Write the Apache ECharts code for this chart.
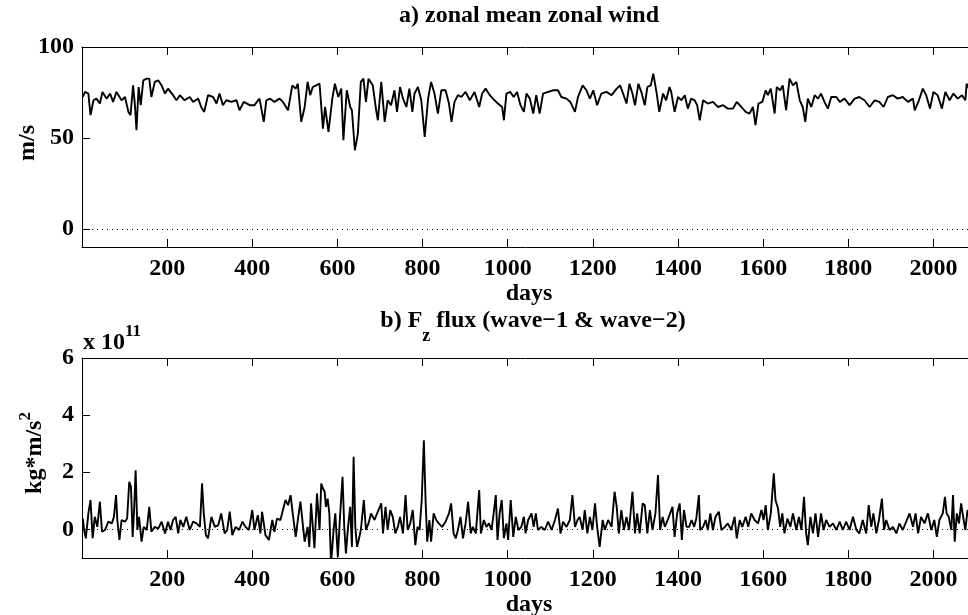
<!DOCTYPE html>
<html><head><meta charset="utf-8">
<script src="https://cdn.jsdelivr.net/npm/echarts@6/dist/echarts.min.js"></script>
<style>html,body{margin:0;padding:0;background:#fff}#c{width:968px;height:615px}</style>
</head><body><div id="c"></div>
<script>
// ---- panel a: zonal mean zonal wind (m/s) ----
const daysA = [2,7,15,20,27,34,42,48,58,66,73,81,93,101,109,114,120,124,128,133,138,144,152,158,163,171,179,187,195,202,214,222,230,241,253,261,273,280,287,296,308,316,323,331,339,351,363,370,380,394,405,417,427,433,442,452,464,472,484,494,502,507,515,523,530,536,542,550,558,566,571,579,588,594,602,609,614,622,630,634,641,648,655,661,667,673,
683,691,695,703,711,718,726,734,740,747,754,762,769,776,781,789,797,805,813,820,828,836,844,854,862,868,875,883,891,901,911,922,933,940,948,958,965,977,987,991,997,1006,1014,1022,1030,1038,1044,1052,1060,1067,1075,1083,1095,1107,1118,1126,1138,1147,1158,1165,1176,1185,1193,1201,1210,1220,1232,1244,1256,1264,1271,1279,1286,1293,1299,1307,1315,1322,1328,1336,1342,1350,1356,1365,1372,1380,
1384,1392,1400,1408,1416,1423,1431,1439,1445,1451,1459,1470,1482,1494,1506,1517,1529,1538,1549,1559,1568,1576,1582,1589,1598,1606,1611,1618,1627,1632,1640,1646,1654,1662,1670,1678,1686,1693,1699,1705,1713,1721,1729,1736,1744,1752,1760,1772,1780,1791,1803,1815,1826,1838,1850,1862,1873,1883,1893,1905,1916,1928,1940,1952,1956,1966,1975,1983,1992,2000,2010,2020,2028,2038,2047,2057,2067,2075,2078,2086];
const windA = [72.5,75.3,74.4,62.5,70.7,71.6,68.9,75.3,71.6,74.4,69.8,75.3,70.7,72.5,64.3,62.5,78.9,68.9,54.2,78,68,81.7,82.6,82.6,72.5,80.8,81.7,78.9,74.4,77.1,73.5,70.7,73.5,70.7,72.5,69.8,71.6,67.0,64.3,73.5,72.5,68.9,74.4,68,70.7,69.8,70.7,65.2,69.8,68,68,71.6,58.8,70.7,71.6,69.8,71.6,69.8,65.2,78.9,77.1,79.8,58.8,67,80.8,73.5,78,78.9,79.8,55.1,67,53.3,71.6,79.8,72.5,77.1,48.7,76.2,67,65.2,43.2,52.4,80.8,82.6,69.8,82.6,
78.9,65.2,59.7,80.8,58.8,70.7,68,76.2,64.3,78,71.6,67,77.1,64.3,74.4,78,70.7,50.5,71.6,80.8,74.4,63.4,76.2,76.2,68.9,58.8,69.8,73.5,72.5,75.3,70.7,75.3,67,74.4,77.1,73.5,71.6,68.9,67,59.7,74.4,75.3,72.5,75.3,68,64.3,74.4,71.6,63.4,73.5,63.4,74.4,75.3,76.2,76.2,72.5,71.6,69.8,64.3,72.5,78.9,76.2,71.6,76.2,68,74.4,75.3,73.5,77.1,78.9,74.4,68.9,79.8,74.4,68,79.8,74.4,68,78,78.9,85.3,74.4,64.3,74.4,70.7,78,
75.3,64.3,72.5,70.7,73.5,66.1,71.6,70.7,68,59.7,70.7,68.9,69.8,67,68,66.1,66.1,69.8,67,64.3,63.4,67,57,68.9,69.8,76.2,73.5,77.1,63.4,78,76.2,78.9,65.2,82.6,78.9,80.8,70.7,67,58.8,71.6,67,73.5,71.6,74.4,69.8,66.1,72.5,72.5,69.8,71.6,68,71.6,72.5,70.7,67,70.7,69.8,67,72.5,73.5,71.6,72.5,69.8,71.6,65.2,70.7,77.1,73.5,66.1,75.3,73.5,66.1,75.3,70.7,74.4,71.6,73.5,70.7,79.8,76];

// ---- panel b: Fz flux (units of 10^11 kg*m/s^2) ----
const daysB = [2,5,9,15,20,25,30,36,42,47,54,62,70,75,80,83,88,93,101,106,111,115,119,122,126,130,134,140,145,152,158,163,171,179,187,195,202,208,214,220,226,231,238,245,253,261,269,277,282,286,291,296,304,312,320,327,335,341,347,353,361,369,377,384,392,400,405,413,419,423,431,439,447,452,458,466,470,478,484,490,495,502,507,513,517,523,530,534,538,546,552,558,562,566,570,573,577,581,585,591,595,601,606,612,616,620,625,630,634,638,642,646,650,655,662,667,673,
679,687,695,703,707,713,718,724,730,736,742,747,754,760,765,771,777,783,788,793,798,803,807,811,816,820,826,832,838,846,854,862,867,873,878,883,889,895,901,907,913,918,925,933,937,944,950,956,962,967,972,976,981,986,991,997,1001,1007,1013,1019,1025,1032,1038,1042,1048,1056,1061,1066,1071,1079,1087,1095,1103,1111,1118,1124,1130,1138,1146,1152,1158,1164,1169,1176,1181,1187,1193,1199,1205,1210,1216,1223,1228,1236,1244,1251,1256,1261,1267,1273,1279,1285,1293,1299,1304,1310,1317,1322,1328,1334,1340,1347,1353,1358,1364,1369,1377,
1387,1392,1398,1404,1409,1414,1420,1426,1432,1438,1443,1449,1452,1459,1465,1470,1476,1482,1488,1496,1502,1510,1517,1525,1533,1538,1545,1551,1559,1565,1572,1580,1588,1596,1601,1606,1611,1618,1625,1629,1635,1640,1645,1650,1657,1664,1670,1678,1684,1690,1696,1701,1705,1711,1717,1723,1729,1736,1742,1748,1756,1764,1772,1780,1787,1795,1803,1811,1819,1826,1834,1842,1848,1854,1859,1866,1872,1879,1884,1889,1897,1905,1913,1920,1928,1936,1944,1952,1958,1964,1971,1979,1987,1995,2002,2008,2014,2022,2027,2031,2036,2042,2046,2050,2055,2060,2065,2071,2075,2080,2086];
const fluxB = [0.38,-0.02,-0.31,0.56,1.03,-0.31,0.44,0.09,0.97,-0.08,-0.02,0.27,0.21,0.44,1.2,0.33,-0.37,0.33,0.27,0.38,1.67,1.49,-0.26,0.56,2.07,-0.02,0.44,-0.43,0.09,-0.02,0.79,-0.08,0.09,0.03,0.27,-0.14,0.27,-0.02,0.33,0.44,-0.14,0.33,0.09,0.44,-0.02,0.27,0.21,0.09,1.61,0.56,-0.2,-0.31,0.44,0.09,0.15,0.56,-0.14,-0.02,0.62,-0.2,0.09,-0.02,0.27,0.09,-0.02,0.68,-0.02,0.5,-0.14,0.62,-0.2,-0.37,0.33,-0.08,0.38,0.33,0.33,1.03,0.85,1.2,0.56,-0.26,0.33,0.97,0.91,-0.43,0.09,-0.61,0.91,-0.66,1.26,-0.02,1.61,1.43,1.32,0.79,1.08,0.56,-1.2,-0.02,0.56,-0.96,0.44,1.84,0.09,-0.84,0.09,0.79,-0.61,2.54,0.09,-0.61,-0.37,-0.02,1.03,-0.02,0.21,
0.56,0.33,0.62,0.91,-0.14,0.79,-0.02,0.68,0.44,-0.14,0.09,0.44,-0.14,1.2,-0.02,0.21,0.68,-0.55,0.09,-0.02,1.03,3.12,1.03,-0.43,0.33,-0.43,0.56,0.33,0.21,0.09,0.27,0.56,0.91,-0.14,-0.31,-0.02,0.44,-0.31,0.21,0.97,-0.14,0.09,-0.14,1.38,-0.14,0.33,0.09,0.21,-0.02,0.56,1.2,-0.37,0.56,1.03,-0.31,0.21,-0.37,1.03,-0.26,0.44,-0.02,0.09,0.44,-0.14,0.33,0.56,0.09,0.56,-0.02,0.09,-0.02,0.27,-0.02,0.33,0.73,-0.14,0.27,0.09,0.33,1.2,0.09,0.33,0.44,-0.02,0.68,-0.14,0.44,-0.02,0.91,0.09,-0.61,0.33,-0.02,0.33,0.09,1.32,0.79,-0.14,0.68,-0.02,0.44,-0.02,1.32,-0.14,0.56,-0.14,0.91,0.85,-0.14,0.68,-0.02,0.56,1.9,-0.02,0.44,0.09,0.38,
0.79,-0.26,0.56,0.91,-0.37,0.68,0.09,0.09,0.33,0.09,0.38,1.2,-0.02,0.09,0.33,-0.02,0.56,-0.02,0.44,0.62,-0.02,0.09,0.21,-0.02,0.44,-0.31,0.33,0.09,0.44,0.09,0.56,0.33,0.21,0.68,0.33,0.85,-0.02,0.56,1.96,1.03,0.73,0.09,0.56,-0.14,0.38,0.09,0.56,-0.02,0.44,-0.02,1.14,-0.14,-0.55,0.44,-0.14,0.56,-0.26,0.56,-0.02,0.33,0.09,0.21,-0.02,0.27,-0.02,0.27,-0.02,0.44,-0.02,-0.14,0.33,-0.14,0.85,0.09,0.56,-0.14,0.33,1.08,-0.02,0.33,-0.02,0.09,-0.14,0.21,-0.02,0.27,0.56,0.09,0.56,-0.14,0.44,0.21,0.56,-0.02,0.33,-0.26,0.33,0.56,1.14,0.56,0.44,-0.02,1.2,-0.43,0.56,0.21,0.91,0.33,-0.02,0.68,0.3];

// ---- ticks ----
const xTicks = [200,400,600,800,1000,1200,1400,1600,1800,2000];
const yTicksA = [0,50,100];
const yTicksB = [0,2,4,6];

const FONT = '"Liberation Serif","Times New Roman",serif';
function pairs(x, y) { return x.map((d, i) => [d, y[i]]); }

const chart = echarts.init(document.getElementById('c'), null, {renderer: 'canvas'});

const axLine = {show: true, onZero: false, lineStyle: {color: '#000', width: 1}};
const plain = v => String(v);
function xAx(grid, pos, withLabels) {
  return {
    type: 'value', gridIndex: grid, position: pos, min: 0, max: 2100,
    axisLine: axLine,
    axisTick: {show: true, inside: true, length: 8, customValues: xTicks, lineStyle: {color: '#000', width: 1}},
    axisLabel: withLabels ? {show: true, customValues: xTicks, formatter: plain, margin: 10, color: '#000', fontFamily: FONT, fontWeight: 'bold', fontSize: 24} : {show: false},
    splitLine: {show: false},
    name: withLabels ? 'days' : '', nameLocation: 'middle', nameGap: 33,
    nameTextStyle: {color: '#000', fontFamily: FONT, fontWeight: 'bold', fontSize: 24}
  };
}
function yAx(grid, pos, min, max, ticks, withLabels) {
  return {
    type: 'value', gridIndex: grid, position: pos, min: min, max: max,
    axisLine: axLine,
    axisTick: {show: true, inside: true, length: 8, customValues: ticks, lineStyle: {color: '#000', width: 1}},
    axisLabel: withLabels ? {show: true, customValues: ticks, formatter: plain, margin: 8, color: '#000', fontFamily: FONT, fontWeight: 'bold', fontSize: 24} : {show: false},
    splitLine: {show: false}
  };
}
function lineSeries(xi, yi, data) {
  return {
    type: 'line', xAxisIndex: xi, yAxisIndex: yi, data: data,
    showSymbol: false, symbol: 'none', smooth: false, animation: false, z: 3,
    lineStyle: {color: '#000', width: 1.9}, itemStyle: {color: '#000'},
    markLine: {silent: true, symbol: ['none', 'none'], animation: false, label: {show: false},
      lineStyle: {color: '#000', width: 1, type: [1, 4]}, emphasis: {disabled: true},
      data: [{yAxis: 0}]}
  };
}

const option = {
  animation: false,
  backgroundColor: '#fff',
  grid: [
    {left: 82, top: 47, width: 894, height: 200, containLabel: false, outerBoundsMode: 'none'},
    {left: 82, top: 358, width: 894, height: 200, containLabel: false, outerBoundsMode: 'none'}
  ],
  xAxis: [xAx(0, 'bottom', true), xAx(0, 'top', false), xAx(1, 'bottom', true), xAx(1, 'top', false)],
  yAxis: [yAx(0, 'left', -10, 100, yTicksA, true), yAx(0, 'right', -10, 100, yTicksA, false),
          yAx(1, 'left', -1, 6, yTicksB, true), yAx(1, 'right', -1, 6, yTicksB, false)],
  series: [lineSeries(0, 0, pairs(daysA, windA)), lineSeries(2, 2, pairs(daysB, fluxB))],
  graphic: [
    {type: 'text', x: 529, y: 16, style: {text: 'a) zonal mean zonal wind', align: 'center', verticalAlign: 'middle',
      fill: '#000', font: 'bold 24px ' + FONT}},
    {type: 'text', x: 533, y: 327, style: {
      text: '{m|b) F}{s|z}{m| flux (wave\u22121 & wave\u22122)}', align: 'center', verticalAlign: 'middle', fill: '#000',
      rich: {
        m: {fontFamily: FONT, fontWeight: 'bold', fontSize: 24, lineHeight: 24, padding: [0, 0, 12, 0], fill: '#000'},
        s: {fontFamily: FONT, fontWeight: 'bold', fontSize: 18, lineHeight: 18, padding: [18, 0, 0, 0], fill: '#000'}
      }}},
    {type: 'text', x: 83, y: 339, style: {
      text: '{m|x 10}{p|11}', align: 'left', verticalAlign: 'middle', fill: '#000',
      rich: {
        m: {fontFamily: FONT, fontWeight: 'bold', fontSize: 24, lineHeight: 24, padding: [8, 0, 0, 0], fill: '#000'},
        p: {fontFamily: FONT, fontWeight: 'bold', fontSize: 17, lineHeight: 17, padding: [0, 0, 15, 0], fill: '#000'}
      }}},
    {type: 'text', x: 28, y: 143, rotation: Math.PI / 2, style: {text: 'm/s', align: 'center', verticalAlign: 'middle',
      fill: '#000', font: 'bold 24px ' + FONT}},
    {type: 'text', x: 32, y: 453, rotation: Math.PI / 2, style: {
      text: '{m|kg*m/s}{p|2}', align: 'center', verticalAlign: 'middle', fill: '#000',
      rich: {
        m: {fontFamily: FONT, fontWeight: 'bold', fontSize: 24, lineHeight: 24, padding: [6, 0, 0, 0], fill: '#000'},
        p: {fontFamily: FONT, fontWeight: 'bold', fontSize: 17, lineHeight: 17, padding: [0, 0, 13, 0], fill: '#000'}
      }}}
  ]
};
chart.setOption(option);
</script>
</body></html>
